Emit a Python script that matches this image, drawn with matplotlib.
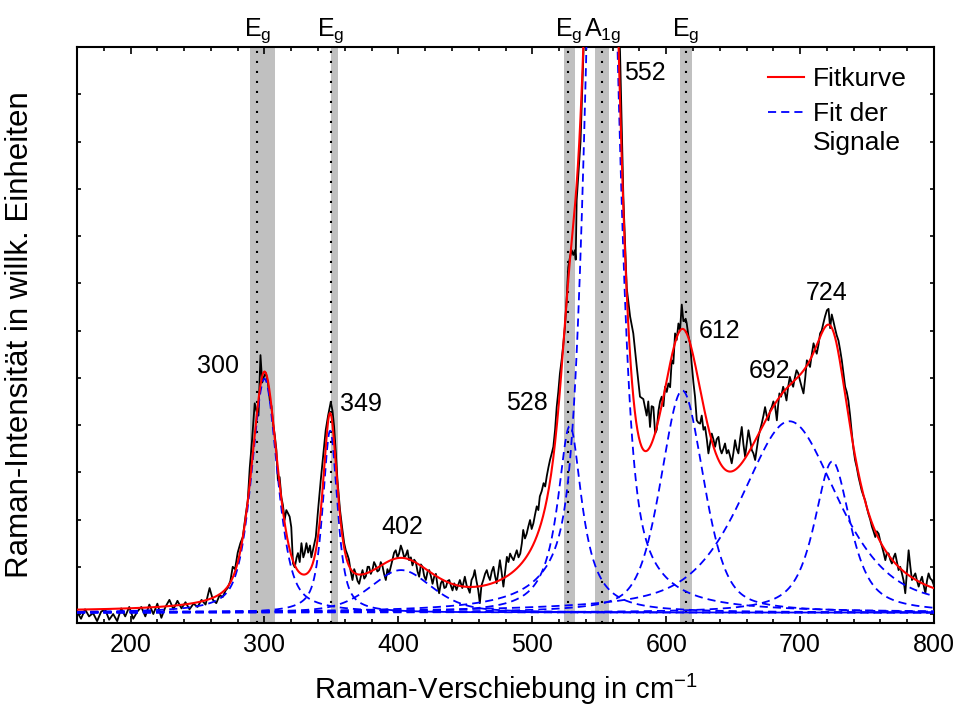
import numpy as np
import matplotlib
matplotlib.use("Agg")
import matplotlib.pyplot as plt
from matplotlib.ticker import MultipleLocator

plt.rcParams['font.family'] = ['Liberation Sans', 'DejaVu Sans']
plt.rcParams['mathtext.fontset'] = 'custom'
plt.rcParams['mathtext.rm'] = 'Liberation Sans'
plt.rcParams['mathtext.it'] = 'Liberation Sans:italic'

# measured spectrum (Raman shift in cm^-1, intensity in arb. units)
shift = [
    160, 163, 166, 169, 172, 175, 178, 181, 184, 187, 190, 193, 196, 199,
    202, 205, 208, 211, 214, 217, 220, 223, 226, 229, 232, 235, 238, 241,
    244, 247, 250, 253, 256, 259, 261.5, 264, 266.5, 268.8, 271, 272.5,
    274.5, 276.3, 278, 280, 282, 283.8, 285.5, 287.5, 289, 290.7, 292.7,
    294, 295.5, 297, 298.3, 299.5, 301, 302.6, 304, 305.2, 306.4, 307.6,
    308.9, 310, 311.3, 312.6, 313.8, 315, 316.3, 317.6, 318.8, 320, 321.3,
    322.6, 324, 325, 326.3, 327.6, 329, 330, 331.3, 332.6, 334, 335, 336.5,
    338.3, 340, 342, 344, 345.7, 347.5, 349.5, 350.8, 352, 353.3, 354.5,
    356.4, 358.2, 359.5, 360.7, 362, 363, 364.4, 365.7, 367, 368.2, 369.5,
    370.7, 372, 373.2, 374.5, 375.7, 377, 378.1, 379.4, 380.6, 381.8, 383,
    384.3, 385.6, 386.8, 388, 389.3, 390.6, 391.8, 393, 394.3, 395.5, 396.8,
    398, 399.3, 400.5, 401.8, 403, 404.3, 405.5, 406.8, 408, 409.3, 410.5,
    411.8, 413, 414.3, 415.5, 416.8, 418, 419.3, 420.5, 421.8, 423, 424.3,
    425.5, 426.8, 428, 429.2, 430.4, 431.7, 433, 434.3, 435.5, 436.8, 438,
    439.2, 440.4, 441.7, 443.4, 445.9, 447.7, 449.6, 451, 452, 453.3, 454.6,
    456, 457, 458.3, 459.6, 460.8, 462, 463.4, 464.7, 466, 467.2, 468.4,
    469.7, 471, 472.2, 473.4, 474.6, 475.8, 477, 478.4, 479.7, 481, 482.2,
    483.4, 484.7, 486, 487.2, 488.4, 489.7, 491, 492.2, 493.2, 494.5, 495.8,
    497, 498.3, 499.5, 500.8, 502, 503.3, 504.5, 505.6, 507, 508.4, 509.6,
    510.8, 512, 513.2, 514.5, 515.7, 517, 518.2, 519.4, 520.6, 522, 523.2,
    524.4, 525.6, 526.8, 528.1, 529.4, 530.6, 531.8, 532.4, 533.1, 536, 539,
    543, 548, 552, 556, 560, 563, 565.5, 568, 570.5, 573, 575.4, 578, 580.4,
    582.9, 585.4, 586.6, 587.9, 589.1, 590.4, 591.7, 592.9, 594.2, 595.4,
    596.6, 597.9, 599.1, 600.4, 601.6, 602.9, 604.1, 605.3, 606.6, 607.8,
    609.1, 610.3, 611.6, 612.8, 613.4, 614.5, 615.3, 616.5, 617.8, 619,
    620.3, 621.5, 622.8, 624, 625.3, 626.5, 627.8, 629, 630.3, 631.5, 632.7,
    634, 635.2, 636.5, 637.7, 639, 640.2, 641.4, 642.7, 643.9, 645.2, 646.4,
    647.6, 648.9, 650.1, 651.4, 652.6, 653.9, 655.1, 656.4, 657.6, 658.9,
    660.1, 661.4, 662.6, 663.9, 665.1, 666.4, 667.6, 668.9, 670.1, 671.3,
    672.6, 673.8, 675, 676.3, 677.5, 678.8, 680, 681.3, 682.6, 683.5, 684.5,
    685.8, 687.3, 688.5, 689.8, 691, 692.3, 693.5, 694.8, 696, 697.3, 698.5,
    699.8, 701.2, 702.5, 703.8, 705, 706.2, 707.4, 708.7, 710, 711.2, 712.4,
    713.7, 714.9, 716.1, 717.3, 718.6, 720, 721.2, 722.4, 723.6, 724.8, 726,
    727.3, 728.6, 729.8, 731.1, 732.3, 733.6, 734.8, 736, 737.3, 738.6,
    739.8, 741, 742.3, 743.6, 744.8, 746, 747.3, 748.6, 749.8, 751.1, 752.3,
    753.6, 754.8, 756.1, 757.3, 758.6, 759.8, 761.1, 762.3, 763.6, 764.8,
    766.1, 767.3, 768.5, 769.8, 771, 772.3, 773.5, 774.7, 776, 777.3, 778.5,
    779.8, 781, 782.3, 783.5, 784.8, 786, 787.3, 788.5, 789.8, 791, 792.3,
    793.5, 794.7, 795.9, 797.2, 798.4, 800,
]
intensity = [
    0.05, -0.1, 0.1, -0.05, 0.02, -0.15, 0.05, 0.1, -0.12, 0.0, -0.15, 0.12,
    -0.05, 0.15, -0.1, 0.05, 0.15, -0.05, 0.2, 0.0, 0.22, -0.08, 0.15, 0.3,
    0.1, 0.28, 0.12, 0.25, 0.1, 0.22, 0.15, 0.3, 0.2, 0.55, 0.3, 0.23, 0.4,
    0.36, 0.5, 0.55, 0.7, 1.0, 0.95, 1.3, 1.5, 1.63, 2.0, 2.4, 3.1, 3.68,
    4.46, 4.3, 4.2, 5.48, 4.9, 5.02, 5.1, 4.88, 4.52, 4.4, 4.03, 3.8, 3.47,
    2.83, 2.9, 2.47, 2.3, 1.99, 2.2, 2.13, 2.06, 1.84, 1.07, 0.99, 1.2,
    1.29, 1.1, 1.5, 1.2, 1.29, 1.5, 1.3, 1.45, 1.2, 1.4, 1.63, 2.2, 2.83,
    3.4, 3.89, 4.2, 4.49, 4.3, 3.96, 3.4, 2.83, 2.2, 1.78, 1.5, 1.35, 1.25,
    1.16, 0.9, 0.72, 0.95, 0.85, 0.7, 0.64, 0.8, 0.93, 0.75, 0.8, 1.0, 1.0,
    0.85, 0.93, 1.1, 1.03, 0.9, 0.93, 1.1, 1.03, 0.85, 0.72, 0.95, 0.85,
    1.0, 1.14, 1.3, 1.35, 1.2, 1.28, 1.45, 1.35, 1.2, 1.24, 1.35, 1.14, 1.2,
    1.03, 1.15, 1.1, 0.9, 0.79, 1.05, 1.0, 0.8, 0.72, 0.9, 0.93, 0.8, 0.64,
    0.8, 0.85, 0.6, 0.44, 0.65, 0.72, 0.55, 0.57, 0.7, 0.72, 0.6, 0.5, 0.65,
    0.51, 0.72, 0.55, 0.79, 0.6, 0.55, 0.45, 0.72, 0.8, 0.93, 0.7, 0.51,
    0.23, 0.6, 0.72, 0.85, 0.93, 0.8, 0.72, 0.9, 1.0, 0.8, 0.65, 0.9, 1.14,
    0.9, 0.58, 0.9, 1.21, 1.1, 1.28, 1.2, 1.14, 1.25, 1.35, 1.2, 1.28, 1.5,
    1.78, 1.6, 1.7, 1.85, 1.99, 1.8, 1.92, 2.1, 2.28, 2.2, 2.49, 2.6, 2.77,
    2.7, 2.92, 3.1, 3.26, 3.4, 3.54, 3.9, 4.38, 4.7, 5.09, 5.4, 5.73, 6.1,
    6.64, 7.34, 7.55, 7.7, 7.6, 7.7, 7.5, 8.75, 10.0, 12.6, 17.5, 22.0,
    24.0, 22.0, 17.0, 13.4, 11.9, 8.8, 6.9, 6.3, 5.94, 5.23, 4.6, 4.55, 4.2,
    4.5, 3.96, 4.4, 4.38, 3.82, 3.9, 4.3, 4.5, 4.6, 4.4, 4.81, 4.7, 4.88,
    4.8, 5.37, 5.3, 5.94, 5.8, 6.15, 6.0, 6.55, 6.2, 6.2, 6.25, 6.15, 5.9,
    5.73, 5.3, 4.9, 4.6, 4.1, 4.05, 4.03, 4.2, 3.9, 3.96, 3.7, 3.4, 3.6,
    3.82, 3.7, 3.54, 3.7, 3.75, 3.5, 3.4, 3.5, 3.61, 3.4, 3.47, 3.35, 3.19,
    3.4, 3.68, 3.5, 3.4, 3.7, 3.96, 3.6, 3.33, 3.6, 3.89, 3.7, 3.47, 3.4,
    3.26, 3.5, 3.75, 3.9, 4.03, 4.2, 4.38, 4.2, 4.1, 4.3, 4.38, 4.5, 4.4,
    4.1, 4.4, 4.67, 4.6, 4.81, 4.7, 4.52, 4.8, 5.02, 4.9, 4.81, 5.0, 5.16,
    5.1, 4.95, 4.8, 4.67, 5.0, 5.37, 5.3, 5.23, 5.5, 5.73, 5.6, 5.51, 5.7,
    5.94, 6.0, 6.15, 6.3, 6.43, 6.46, 6.05, 6.34, 6.2, 6.05, 5.9, 5.79, 5.6,
    5.37, 5.1, 4.81, 4.7, 4.52, 4.2, 3.82, 3.5, 3.26, 3.1, 2.9, 2.75, 2.61,
    2.5, 2.4, 2.25, 2.11, 2.0, 1.85, 1.75, 1.63, 1.75, 1.7, 1.55, 1.43, 1.3,
    1.14, 1.3, 1.28, 1.15, 1.07, 1.2, 1.28, 1.1, 0.93, 1.0, 0.86, 0.7, 0.44,
    0.9, 1.35, 1.0, 0.72, 0.8, 0.86, 0.7, 0.58, 0.7, 0.79, 0.6, 0.44, 0.7,
    0.86, 0.75, 0.72, 0.6,
]

# fitted signals: pseudo-Voigt parameters
peak_pos = [300, 349, 402, 528, 552, 612, 692, 724]
peak_height = [4.95, 3.85, 0.9, 3.95, 23.0, 4.7, 4.05, 3.2]
peak_fwhm = [23, 13, 55, 22, 24, 38, 86, 32]
peak_eta = [0.55, 0.7, 0.45, 1.0, 0.55, 0.45, 0.6, 0.75]
offset = 0.03

# literature modes
mode_names = ['E$_\\mathregular{g}$', 'E$_\\mathregular{g}$', 'E$_\\mathregular{g}$',
              'A$_\\mathregular{1g}$', 'E$_\\mathregular{g}$']
mode_pos = [294.7, 349.5, 527.0, 552.2, 614.6]
mode_lo = [289.5, 349.5, 523.8, 547.0, 610.0]
mode_hi = [308.2, 355.2, 531.8, 557.2, 619.0]


def pvoigt(x, x0, h, fwhm, eta):
    u = 2.0 * (x - x0) / fwhm
    return h * (eta / (1.0 + u**2) + (1.0 - eta) * np.exp(-np.log(2.0) * u**2))


x = np.linspace(160, 800, 1281)
comps = [pvoigt(x, c, h, w, e) for c, h, w, e in zip(peak_pos, peak_height, peak_fwhm, peak_eta)]
fit = offset + np.sum(comps, axis=0)

fig = plt.figure(figsize=(9.59, 7.13), dpi=100)
ax = fig.add_axes([0.0803, 0.1262, 0.8937, 0.8078])

for lo, hi, pos in zip(mode_lo, mode_hi, mode_pos):
    ax.axvspan(lo, hi, color='#c0c0c0', lw=0, zorder=0)
    ax.axvline(pos, color='black', lw=1.5, linestyle=(0, (1, 3.8)), zorder=1)

ax.plot(shift, intensity, color='black', lw=1.3, zorder=2)
for i, comp in enumerate(comps):
    ax.plot(x, offset + comp, color='#0000ff', lw=1.3, dashes=[4.5, 2.8], zorder=3,
            label='Fit der' if i == 0 else None)
ax.plot(x, fit, color='#ff0000', lw=1.5, zorder=4, label='Fitkurve')

# peak labels
label_xy = [(265, 5.26), (372, 4.44), (403, 1.84), (496, 4.46),
            (584, 11.46), (640, 6.0), (677, 5.14), (720, 6.79)]
for pos, (lx, ly) in zip(peak_pos, label_xy):
    ax.text(lx, ly, str(pos), fontsize=18, ha='center', va='center')

for name, pos in zip(mode_names, mode_pos):
    ax.text(pos, 1.004, name, fontsize=18, ha='center', va='bottom',
            transform=ax.get_xaxis_transform())

ax.set_xlim(160, 800)
ax.set_ylim(-0.19, 12.0)
ax.set_xticks(range(200, 801, 100))
ax.xaxis.set_minor_locator(MultipleLocator(20))
ax.set_yticks(np.arange(0, 12, 1))
ax.set_yticklabels([])
ax.tick_params(axis='x', which='major', direction='in', top=True, length=5, width=1.2,
               labelsize=18, pad=7)
ax.tick_params(axis='x', which='minor', direction='in', top=True, length=3, width=1.2)
ax.tick_params(axis='y', which='major', direction='in', right=True, length=3, width=1.2)
for sp in ax.spines.values():
    sp.set_linewidth(1.5)

ax.set_xlabel('Raman-Verschiebung in cm$^{\\mathregular{-1}}$', fontsize=21, labelpad=11)
ax.set_ylabel('Raman-Intensität in willk. Einheiten', fontsize=22.5, labelpad=27)

handles, labels = ax.get_legend_handles_labels()
leg = ax.legend(handles[::-1], labels[::-1], loc='upper left', frameon=False, fontsize=19,
                handlelength=1.36, handletextpad=0.36, labelspacing=0.42,
                borderpad=0, borderaxespad=0, bbox_to_anchor=(0.806, 0.965))

# second line of the component label, set under "Fit der"
fig.canvas.draw()
bb = leg.get_texts()[1].get_window_extent()
ax.annotate('Signale', xy=(bb.x0, 0.5 * (bb.y0 + bb.y1) - 29), xycoords='figure pixels',
            fontsize=19, ha='left', va='center')

fig.savefig('out.png', dpi=100)
